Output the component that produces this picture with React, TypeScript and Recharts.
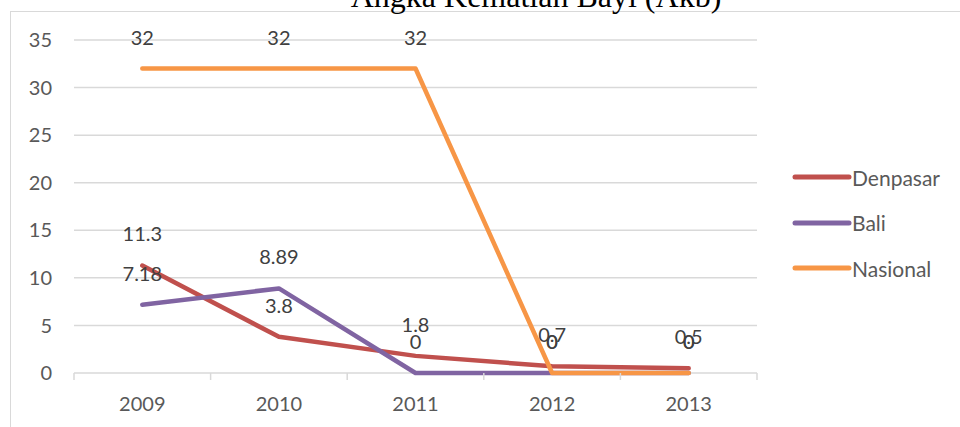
import React from 'react';
import { LineChart, Line, XAxis, YAxis, CartesianGrid, Legend, LabelList } from 'recharts';

const years = ['2009', '2010', '2011', '2012', '2013'];
const denpasar = [11.3, 3.8, 1.8, 0.7, 0.5];
const bali = [7.18, 8.89, 0, 0, 0];
const nasional = [32, 32, 32, 0, 0];
const yTicks = [0, 5, 10, 15, 20, 25, 30, 35];

const data = years.map((year, i) => ({
  year,
  Denpasar: denpasar[i],
  Bali: bali[i],
  Nasional: nasional[i],
}));

const series = [
  { key: 'Denpasar', color: '#C0504D' },
  { key: 'Bali', color: '#8064A2' },
  { key: 'Nasional', color: '#F79646' },
];

const FONT = 'Lato, "Open Sans", sans-serif';
const GRID = '#d9d9d9';
// plot area: 74..757 wide, 5 categories
const BAND = (757 - 74) / years.length;

const XTick = (props: any) => {
  const { x, y, payload, index } = props;
  return (
    <g>
      <line x1={x - BAND / 2} x2={x - BAND / 2} y1={y} y2={y + 7} stroke={GRID} strokeWidth={1.5} />
      {index === years.length - 1 && (
        <line x1={x + BAND / 2} x2={x + BAND / 2} y1={y} y2={y + 7} stroke={GRID} strokeWidth={1.5} />
      )}
      <text x={x} y={y + 31} dy="0.35em" textAnchor="middle" fill="#595959" fontSize={20} fontFamily={FONT}>
        {payload.value}
      </text>
    </g>
  );
};

const LegendBox = (props: any) => {
  const items = series.map((s) => {
    const found = (props.payload || []).find((p: any) => p.value === s.key);
    return { value: s.key, color: found ? found.color : s.color };
  });
  return (
    <div style={{ display: 'flex', flexDirection: 'column', gap: 11.5 }}>
      {items.map((p) => (
        <div key={p.value} style={{ display: 'flex', alignItems: 'center', height: 34 }}>
          <svg width={62} height={10}>
            <line x1={5} x2={59} y1={5} y2={5} stroke={p.color} strokeWidth={5} strokeLinecap="round" />
          </svg>
          <span style={{ fontFamily: FONT, fontSize: 21, color: '#595959' }}>{p.value}</span>
        </div>
      ))}
    </div>
  );
};

export default function App() {
  return (
    <div style={{ position: 'fixed', left: 0, top: 0, width: 960, height: 427, overflow: 'hidden', background: '#fff' }}>
      <div
        style={{
          position: 'absolute',
          left: 10,
          top: 11,
          width: 1000,
          height: 500,
          borderLeft: `1.5px solid ${GRID}`,
          borderTop: `1.5px solid ${GRID}`,
        }}
      />
      <svg width={960} height={30} style={{ position: 'absolute', left: 0, top: 0 }}>
        <text x={536} y={7} textAnchor="middle" fontFamily='"Liberation Serif", "Times New Roman", serif' fontSize={32} fill="#000">
          Angka Kematian Bayi (Akb)
        </text>
      </svg>
      <div style={{ position: 'absolute', left: 0, top: 0 }}>
        <LineChart width={960} height={427} data={data} margin={{ top: 40, right: 203, bottom: 14, left: 10 }}>
          <CartesianGrid vertical={false} stroke={GRID} strokeWidth={1.5} />
          <XAxis
            dataKey="year"
            scale="band"
            height={40}
            axisLine={false}
            tickLine={false}
            tickSize={0}
            tickMargin={0}
            tick={<XTick />}
            interval={0}
          />
          <YAxis
            width={64}
            domain={[0, 35]}
            ticks={yTicks}
            axisLine={false}
            tickLine={false}
            tickSize={0}
            tickMargin={22}
            tick={{ fill: '#595959', fontSize: 20, fontFamily: FONT }}
          />
          <Legend
            layout="vertical"
            align="center"
            verticalAlign="middle"
            wrapperStyle={{ left: 790, top: 160, width: 170 }}
            content={<LegendBox />}
          />
          {series.map((s) => (
            <Line
              key={s.key}
              dataKey={s.key}
              type="linear"
              stroke={s.color}
              strokeWidth={4.5}
              strokeLinecap="round"
              strokeLinejoin="round"
              dot={false}
              activeDot={false}
              isAnimationActive={false}
            >
              <LabelList dataKey={s.key} position="top" offset={24} fill="#404040" fontSize={20} fontFamily={FONT} />
            </Line>
          ))}
        </LineChart>
      </div>
    </div>
  );
}
